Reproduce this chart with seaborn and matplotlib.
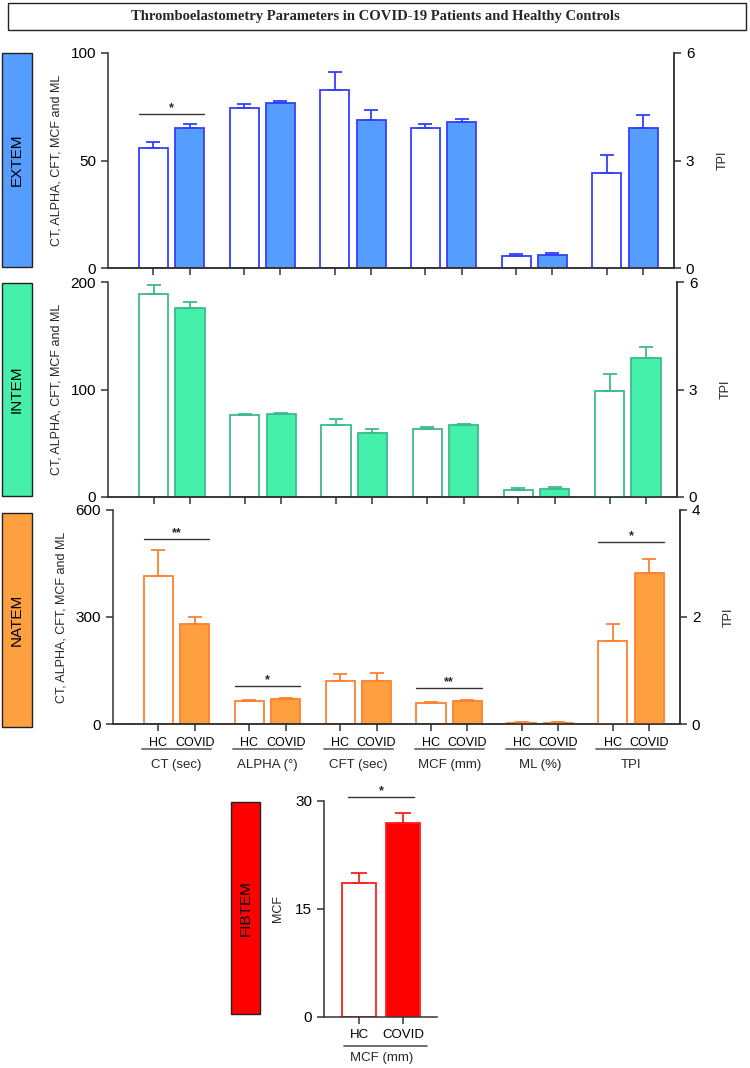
import matplotlib
matplotlib.use('Agg')
import matplotlib.pyplot as plt
from matplotlib.patches import Rectangle
import pandas as pd
import seaborn as sns

# ---- data (mean and upper error) ----
params = ['CT (sec)', 'ALPHA (°)', 'CFT (sec)', 'MCF (mm)', 'ML (%)', 'TPI']
groups = ['HC', 'COVID']

extem_hc = [56.0, 74.6, 83.0, 65.0, 5.4, 2.66]
extem_hc_err = [2.6, 1.8, 8.3, 2.0, 1.3, 0.50]
extem_cov = [64.9, 76.8, 68.9, 68.1, 6.1, 3.92]
extem_cov_err = [2.0, 1.1, 4.5, 1.1, 0.9, 0.36]

intem_hc = [188.8, 76.2, 66.6, 62.8, 6.8, 2.96]
intem_hc_err = [8.7, 1.2, 5.9, 2.5, 1.3, 0.47]
intem_cov = [176.0, 77.1, 59.7, 66.6, 7.8, 3.89]
intem_cov_err = [5.0, 1.0, 3.1, 0.9, 1.2, 0.30]

natem_hc = [415, 63.6, 121.5, 58.9, 3.7, 1.55]
natem_hc_err = [72, 4.6, 18.5, 3.7, 2.8, 0.31]
natem_cov = [279, 69.2, 120.6, 64.5, 3.7, 2.83]
natem_cov_err = [20, 2.8, 22.4, 2.8, 2.8, 0.26]

fibtem_mcf = [18.66, 26.9]
fibtem_err = [1.4, 1.5]

# significance brackets: (param, height, label, on_tpi_axis)
extem_sig = [('CT (sec)', 71.7, '*', False)]
natem_sig = [('CT (sec)', 519, '**', False), ('ALPHA (°)', 106.5, '*', False),
             ('MCF (mm)', 101.8, '**', False), ('TPI', 3.40, '*', True)]
fibtem_sig_h = 30.55

W, H = 750, 1068
sns.set_theme(style='ticks')
plt.rcParams['font.family'] = ['Liberation Sans', 'DejaVu Sans']
fig = plt.figure(figsize=(W / 100, H / 100), dpi=100)

AX_COL = '#333333'


def frame(px_left, px_top, px_right, px_bottom):
    return [px_left / W, 1 - px_bottom / H, (px_right - px_left) / W, (px_bottom - px_top) / H]


def side_box(px_left, px_top, px_right, px_bottom, color, label):
    fig.patches.append(Rectangle((px_left / W, 1 - px_bottom / H), (px_right - px_left) / W,
                                 (px_bottom - px_top) / H, transform=fig.transFigure,
                                 facecolor=color, edgecolor='#222222', lw=1.0))
    fig.text((px_left + px_right) / 2 / W, 1 - (px_top + px_bottom) / 2 / H, label,
             rotation=90, ha='center', va='center', fontsize=11, color='black')


def style_axis(ax):
    ax.spines['top'].set_visible(False)
    for s in ['left', 'right', 'bottom']:
        ax.spines[s].set_color(AX_COL)
        ax.spines[s].set_linewidth(1.1)
    ax.tick_params(colors=AX_COL, labelcolor='black', length=5, width=1.1, labelsize=11)


def panel(rect, hc, hc_err, cov, cov_err, fill, edge, yticks, tticks, sigs, show_labels):
    ax = fig.add_axes(rect)
    tw = ax.twinx()
    rows = []
    for i, p in enumerate(params):
        rows.append({'param': p, 'group': 'HC', 'mean': hc[i], 'err': hc_err[i]})
        rows.append({'param': p, 'group': 'COVID', 'mean': cov[i], 'err': cov_err[i]})
    df = pd.DataFrame(rows)
    main = df[df['param'] != 'TPI']
    tpi = df[df['param'] == 'TPI']
    pal = {'HC': 'white', 'COVID': fill}
    for a, d in [(ax, main), (tw, tpi)]:
        sns.barplot(data=d, x='param', y='mean', hue='group', order=params, hue_order=groups,
                    palette=pal, saturation=1, width=0.8, gap=0.2, errorbar=None,
                    edgecolor=edge, linewidth=1.3, legend=False, ax=a)
        pos = [params.index(p) + (-0.2 if g == 'HC' else 0.2) for p, g in zip(d['param'], d['group'])]
        a.errorbar(pos, d['mean'], yerr=[[0] * len(d), d['err']], fmt='none', ecolor=edge,
                   elinewidth=1.3, capsize=5, capthick=1.3, zorder=3)
    ax.set_ylim(0, yticks[-1])
    tw.set_ylim(0, tticks[-1])
    ax.set_yticks(yticks)
    tw.set_yticks(tticks)
    ax.set_xlim(-0.7, len(params) - 1 + 0.54)
    ax.set_ylabel('CT, ALPHA, CFT, MCF and ML', fontsize=9, labelpad=6)
    tw.set_ylabel('TPI', fontsize=9, labelpad=16)
    ax.set_xlabel('')
    tw.set_xlabel('')
    style_axis(ax)
    style_axis(tw)
    tw.spines['left'].set_visible(False)
    ticks = [i + o for i in range(len(params)) for o in (-0.2, 0.2)]
    ax.set_xticks(ticks)
    if show_labels:
        ax.set_xticklabels(groups * len(params), fontsize=9)
        ax.tick_params(axis='x', pad=4)
        tr = ax.get_xaxis_transform()
        for i, p in enumerate(params):
            ax.plot([i - 0.38, i + 0.38], [-0.118, -0.118], transform=tr, color='#777777',
                    lw=1.4, clip_on=False)
            ax.text(i, -0.19, p, transform=tr, ha='center', va='center', fontsize=9.5)
    else:
        ax.set_xticklabels([])
    tw.tick_params(axis='x', length=0)
    for p, h, lab, on_tpi in sigs:
        a = tw if on_tpi else ax
        i = params.index(p)
        a.plot([i - 0.36, i + 0.36], [h, h], color='#333333', lw=1.0, clip_on=False)
        a.annotate(lab, (i, h), xytext=(0, 0), textcoords='offset points', ha='center',
                   va='bottom', fontsize=9, fontweight='bold')
    return ax


# ---- title ----
fig.patches.append(Rectangle((8 / W, 1 - 30 / H), 738 / W, 27 / H, transform=fig.transFigure,
                             facecolor='white', edgecolor='#222222', lw=1.0))
fig.text(0.5, 1 - 16.5 / H, 'Thromboelastometry Parameters in COVID-19 Patients and Healthy Controls',
         ha='center', va='center', fontsize=10.5, fontweight='bold',
         family=['Liberation Serif', 'DejaVu Serif'])

# ---- EXTEM ----
panel(frame(108, 53, 674, 268), extem_hc, extem_hc_err, extem_cov, extem_cov_err,
      '#559DFF', '#3340FF', [0, 50, 100], [0, 3, 6], extem_sig, False)
side_box(2, 53, 32, 267, '#559DFF', 'EXTEM')

# ---- INTEM ----
panel(frame(108, 282, 677, 497), intem_hc, intem_hc_err, intem_cov, intem_cov_err,
      '#44F0AA', '#3DBB8A', [0, 100, 200], [0, 3, 6], [], False)
side_box(2, 283, 32, 496, '#44F0AA', 'INTEM')

# ---- NATEM ----
panel(frame(113, 510, 680, 724), natem_hc, natem_hc_err, natem_cov, natem_cov_err,
      '#FFA040', '#FF8030', [0, 300, 600], [0, 2, 4], natem_sig, True)
side_box(2, 513, 32, 727, '#FFA040', 'NATEM')

# ---- FIBTEM ----
axf = fig.add_axes(frame(324, 801, 437, 1017))
fdf = pd.DataFrame({'group': groups, 'mean': fibtem_mcf, 'err': fibtem_err})
sns.barplot(data=fdf, x='group', y='mean', hue='group', order=groups, hue_order=groups,
            palette={'HC': 'white', 'COVID': '#FF0000'}, saturation=1, width=0.77,
            errorbar=None, edgecolor='#FF2020', linewidth=1.3, legend=False, ax=axf)
axf.errorbar(range(len(groups)), fdf['mean'], yerr=[[0, 0], fdf['err']], fmt='none',
             ecolor='#FF2020', elinewidth=1.3, capsize=6, capthick=1.3, zorder=3)
axf.set_xlim(-0.8, 1.77)
axf.set_ylim(0, 30)
axf.set_yticks([0, 15, 30])
axf.set_xlabel('')
axf.set_ylabel('MCF', fontsize=9, labelpad=8)
style_axis(axf)
axf.spines['right'].set_visible(False)
axf.set_xticks(range(len(groups)))
axf.set_xticklabels(groups, fontsize=9.5)
trf = axf.get_xaxis_transform()
axf.plot([-0.35, 1.55], [-0.135, -0.135], transform=trf, color='#555555', lw=1.2, clip_on=False)
axf.text(0.5, -0.19, 'MCF (mm)', transform=trf, ha='center', va='center', fontsize=9.5)
axf.plot([-0.25, 1.25], [fibtem_sig_h, fibtem_sig_h], color='#333333', lw=1.0, clip_on=False)
axf.annotate('*', (0.5, fibtem_sig_h), ha='center', va='bottom', fontsize=9, fontweight='bold',
             annotation_clip=False)
side_box(231, 802, 260, 1014, '#FF0000', 'FIBTEM')

fig.savefig('out.png', dpi=100)
